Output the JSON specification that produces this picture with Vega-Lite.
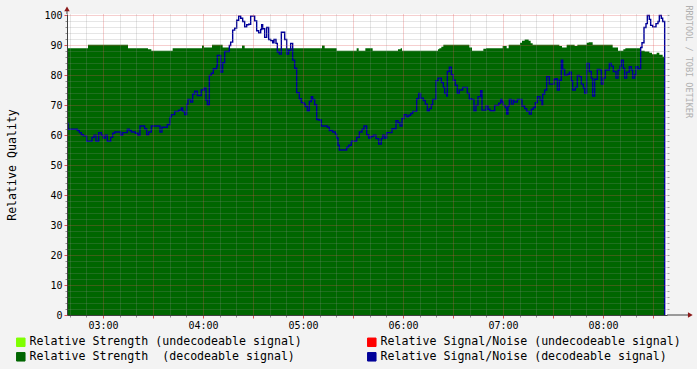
{
  "$schema": "https://vega.github.io/schema/vega-lite/v6.json",
  "width": 600,
  "height": 301,
  "autosize": {"type": "none"},
  "padding": {"left": 67, "top": 14, "right": 30, "bottom": 54},
  "background": "#f3f3f3",
  "datasets": {
    "strength": [
      {"minute": 158.4, "strength": 89.1}, {"minute": 171.0, "strength": 90.2}, {"minute": 195.0, "strength": 89.1},
      {"minute": 207.0, "strength": 88.7}, {"minute": 209.0, "strength": 88.2}, {"minute": 221.8, "strength": 89.1},
      {"minute": 239.4, "strength": 90.0}, {"minute": 240.6, "strength": 89.3}, {"minute": 245.4, "strength": 90.2},
      {"minute": 251.8, "strength": 89.3}, {"minute": 256.2, "strength": 89.1}, {"minute": 263.4, "strength": 90.0},
      {"minute": 265.0, "strength": 89.1}, {"minute": 311.4, "strength": 90.0}, {"minute": 313.0, "strength": 89.1},
      {"minute": 320.2, "strength": 88.2}, {"minute": 332.2, "strength": 89.1}, {"minute": 333.4, "strength": 88.2},
      {"minute": 337.4, "strength": 89.1}, {"minute": 341.8, "strength": 88.2}, {"minute": 357.0, "strength": 88.7},
      {"minute": 358.6, "strength": 89.1}, {"minute": 359.4, "strength": 88.2}, {"minute": 381.0, "strength": 88.7},
      {"minute": 381.8, "strength": 89.1}, {"minute": 383.0, "strength": 89.6}, {"minute": 384.2, "strength": 90.2},
      {"minute": 399.8, "strength": 89.3}, {"minute": 401.4, "strength": 88.2}, {"minute": 408.2, "strength": 88.9},
      {"minute": 409.8, "strength": 89.1}, {"minute": 419.8, "strength": 89.8}, {"minute": 422.2, "strength": 89.1},
      {"minute": 423.4, "strength": 90.2}, {"minute": 430.2, "strength": 90.9}, {"minute": 431.4, "strength": 91.6},
      {"minute": 433.0, "strength": 92.0}, {"minute": 435.4, "strength": 91.6}, {"minute": 436.6, "strength": 90.7},
      {"minute": 437.8, "strength": 90.2}, {"minute": 453.8, "strength": 89.8}, {"minute": 455.4, "strength": 89.3},
      {"minute": 458.2, "strength": 90.2}, {"minute": 463.0, "strength": 89.8}, {"minute": 464.6, "strength": 90.2},
      {"minute": 470.2, "strength": 90.9}, {"minute": 471.4, "strength": 91.1}, {"minute": 473.8, "strength": 90.2},
      {"minute": 485.8, "strength": 89.3}, {"minute": 489.0, "strength": 88.2}, {"minute": 492.2, "strength": 88.7},
      {"minute": 493.4, "strength": 89.1}, {"minute": 502.6, "strength": 88.2}, {"minute": 505.0, "strength": 88.0},
      {"minute": 507.8, "strength": 87.6}, {"minute": 509.4, "strength": 87.1}, {"minute": 512.2, "strength": 87.6},
      {"minute": 513.8, "strength": 86.9}, {"minute": 515.8, "strength": 86.2}, {"minute": 517.0, "strength": 86.2}
    ],
    "snr": [
      {"minute": 158.4, "snr": 64.0}, {"minute": 159.0, "snr": 62.0}, {"minute": 164.6, "snr": 61.6}, {"minute": 165.8, "snr": 60.9},
      {"minute": 167.0, "snr": 60.2}, {"minute": 168.2, "snr": 59.8}, {"minute": 170.2, "snr": 58.0}, {"minute": 173.4, "snr": 59.3},
      {"minute": 174.6, "snr": 60.0}, {"minute": 175.8, "snr": 58.0}, {"minute": 177.4, "snr": 60.9}, {"minute": 179.0, "snr": 60.0},
      {"minute": 180.2, "snr": 59.1}, {"minute": 181.4, "snr": 60.0}, {"minute": 182.6, "snr": 58.0}, {"minute": 184.6, "snr": 59.3},
      {"minute": 185.8, "snr": 60.7}, {"minute": 187.0, "snr": 61.1}, {"minute": 190.6, "snr": 60.0}, {"minute": 191.8, "snr": 60.9},
      {"minute": 194.6, "snr": 62.0}, {"minute": 195.8, "snr": 61.6}, {"minute": 197.0, "snr": 61.1}, {"minute": 199.4, "snr": 60.7},
      {"minute": 201.0, "snr": 60.0}, {"minute": 202.2, "snr": 63.1}, {"minute": 205.0, "snr": 62.2}, {"minute": 206.2, "snr": 60.2},
      {"minute": 207.4, "snr": 61.1}, {"minute": 209.0, "snr": 63.1}, {"minute": 214.2, "snr": 61.1}, {"minute": 215.4, "snr": 62.7},
      {"minute": 218.6, "snr": 63.6}, {"minute": 220.2, "snr": 66.0}, {"minute": 221.0, "snr": 66.9}, {"minute": 223.0, "snr": 68.0},
      {"minute": 225.4, "snr": 68.4}, {"minute": 227.0, "snr": 69.1}, {"minute": 227.8, "snr": 68.0}, {"minute": 229.0, "snr": 66.9},
      {"minute": 230.2, "snr": 70.4}, {"minute": 231.0, "snr": 72.0}, {"minute": 232.6, "snr": 71.1}, {"minute": 233.8, "snr": 73.8},
      {"minute": 235.0, "snr": 74.7}, {"minute": 236.6, "snr": 73.3}, {"minute": 239.0, "snr": 75.1}, {"minute": 240.6, "snr": 75.8},
      {"minute": 241.8, "snr": 71.8}, {"minute": 242.6, "snr": 70.2}, {"minute": 243.8, "snr": 80.0}, {"minute": 245.0, "snr": 80.7},
      {"minute": 246.2, "snr": 82.2}, {"minute": 248.2, "snr": 83.1}, {"minute": 248.6, "snr": 86.7}, {"minute": 250.6, "snr": 81.1},
      {"minute": 251.8, "snr": 84.2}, {"minute": 253.0, "snr": 88.0}, {"minute": 255.8, "snr": 90.0}, {"minute": 256.6, "snr": 91.1},
      {"minute": 257.8, "snr": 95.1}, {"minute": 259.0, "snr": 95.8}, {"minute": 260.2, "snr": 98.4}, {"minute": 261.4, "snr": 99.8},
      {"minute": 262.6, "snr": 99.1}, {"minute": 263.8, "snr": 98.0}, {"minute": 265.0, "snr": 96.2}, {"minute": 266.2, "snr": 96.9},
      {"minute": 267.4, "snr": 97.1}, {"minute": 268.6, "snr": 99.8}, {"minute": 271.0, "snr": 98.2}, {"minute": 272.2, "snr": 94.9},
      {"minute": 273.4, "snr": 94.2}, {"minute": 274.6, "snr": 95.3}, {"minute": 275.2, "snr": 96.9}, {"minute": 275.8, "snr": 95.6},
      {"minute": 277.0, "snr": 92.7}, {"minute": 278.2, "snr": 96.0}, {"minute": 279.4, "snr": 92.0}, {"minute": 280.6, "snr": 91.6},
      {"minute": 281.8, "snr": 90.9}, {"minute": 282.6, "snr": 92.0}, {"minute": 283.8, "snr": 90.7}, {"minute": 284.6, "snr": 87.8},
      {"minute": 285.8, "snr": 87.1}, {"minute": 287.0, "snr": 94.4}, {"minute": 289.0, "snr": 92.0}, {"minute": 290.2, "snr": 87.1},
      {"minute": 291.4, "snr": 88.4}, {"minute": 292.6, "snr": 90.7}, {"minute": 293.8, "snr": 85.1}, {"minute": 295.0, "snr": 82.4},
      {"minute": 296.2, "snr": 74.2}, {"minute": 297.8, "snr": 72.2}, {"minute": 299.0, "snr": 70.9}, {"minute": 300.6, "snr": 70.4},
      {"minute": 301.4, "snr": 69.6}, {"minute": 302.6, "snr": 68.2}, {"minute": 303.8, "snr": 71.3}, {"minute": 305.0, "snr": 72.9},
      {"minute": 305.8, "snr": 72.0}, {"minute": 307.0, "snr": 70.2}, {"minute": 308.2, "snr": 65.3}, {"minute": 309.4, "snr": 65.1},
      {"minute": 311.0, "snr": 63.1}, {"minute": 314.6, "snr": 62.7}, {"minute": 315.8, "snr": 61.6}, {"minute": 317.8, "snr": 61.1},
      {"minute": 319.4, "snr": 60.4}, {"minute": 320.2, "snr": 59.1}, {"minute": 321.0, "snr": 56.7}, {"minute": 321.8, "snr": 55.1},
      {"minute": 326.2, "snr": 56.0}, {"minute": 327.4, "snr": 56.7}, {"minute": 329.0, "snr": 58.0}, {"minute": 332.2, "snr": 59.3},
      {"minute": 333.8, "snr": 61.1}, {"minute": 335.4, "snr": 62.0}, {"minute": 336.6, "snr": 63.1}, {"minute": 338.2, "snr": 60.2},
      {"minute": 339.4, "snr": 59.1}, {"minute": 340.6, "snr": 59.6}, {"minute": 342.2, "snr": 60.0}, {"minute": 343.8, "snr": 58.9},
      {"minute": 345.4, "snr": 57.1}, {"minute": 347.0, "snr": 58.9}, {"minute": 347.8, "snr": 60.0}, {"minute": 349.0, "snr": 59.1},
      {"minute": 350.2, "snr": 60.9}, {"minute": 353.4, "snr": 62.2}, {"minute": 355.8, "snr": 64.9}, {"minute": 357.0, "snr": 64.2},
      {"minute": 358.2, "snr": 63.1}, {"minute": 359.4, "snr": 65.6}, {"minute": 360.6, "snr": 66.9}, {"minute": 362.2, "snr": 66.2},
      {"minute": 363.4, "snr": 66.7}, {"minute": 364.6, "snr": 67.3}, {"minute": 365.8, "snr": 68.0}, {"minute": 368.2, "snr": 72.2},
      {"minute": 369.4, "snr": 74.0}, {"minute": 370.6, "snr": 72.4}, {"minute": 372.2, "snr": 71.6}, {"minute": 373.4, "snr": 70.4},
      {"minute": 374.6, "snr": 68.2}, {"minute": 375.8, "snr": 68.9}, {"minute": 377.0, "snr": 70.2}, {"minute": 377.8, "snr": 72.0},
      {"minute": 379.8, "snr": 78.2}, {"minute": 381.0, "snr": 79.1}, {"minute": 383.0, "snr": 77.6}, {"minute": 384.2, "snr": 76.0},
      {"minute": 385.0, "snr": 74.0}, {"minute": 386.2, "snr": 73.1}, {"minute": 386.6, "snr": 81.3}, {"minute": 387.8, "snr": 82.7},
      {"minute": 389.0, "snr": 80.2}, {"minute": 390.2, "snr": 78.4}, {"minute": 391.4, "snr": 76.7}, {"minute": 392.6, "snr": 74.0},
      {"minute": 393.8, "snr": 75.1}, {"minute": 395.8, "snr": 76.0}, {"minute": 398.6, "snr": 74.0}, {"minute": 399.8, "snr": 72.2},
      {"minute": 401.0, "snr": 72.0}, {"minute": 402.6, "snr": 68.2}, {"minute": 403.8, "snr": 70.0}, {"minute": 405.0, "snr": 72.9},
      {"minute": 406.6, "snr": 74.9}, {"minute": 407.4, "snr": 68.4}, {"minute": 409.8, "snr": 69.8}, {"minute": 411.0, "snr": 68.7},
      {"minute": 412.2, "snr": 68.2}, {"minute": 415.0, "snr": 70.0}, {"minute": 417.4, "snr": 70.7}, {"minute": 418.6, "snr": 72.0},
      {"minute": 419.4, "snr": 71.1}, {"minute": 420.2, "snr": 70.0}, {"minute": 421.4, "snr": 69.3}, {"minute": 422.2, "snr": 67.1},
      {"minute": 423.0, "snr": 69.8}, {"minute": 423.8, "snr": 72.0}, {"minute": 425.0, "snr": 70.4}, {"minute": 426.2, "snr": 71.8},
      {"minute": 426.6, "snr": 71.1}, {"minute": 428.6, "snr": 72.0}, {"minute": 431.4, "snr": 69.8}, {"minute": 433.0, "snr": 68.9},
      {"minute": 434.2, "snr": 68.0}, {"minute": 435.8, "snr": 67.1}, {"minute": 437.0, "snr": 68.7}, {"minute": 438.2, "snr": 69.3},
      {"minute": 439.4, "snr": 70.9}, {"minute": 440.6, "snr": 72.9}, {"minute": 442.2, "snr": 71.8}, {"minute": 443.4, "snr": 70.2},
      {"minute": 443.8, "snr": 73.8}, {"minute": 445.0, "snr": 75.1}, {"minute": 446.2, "snr": 79.6}, {"minute": 447.8, "snr": 77.1},
      {"minute": 450.6, "snr": 78.7}, {"minute": 451.8, "snr": 78.9}, {"minute": 452.6, "snr": 75.1}, {"minute": 453.8, "snr": 78.4},
      {"minute": 455.0, "snr": 85.1}, {"minute": 455.8, "snr": 82.0}, {"minute": 457.0, "snr": 80.0}, {"minute": 458.6, "snr": 80.4},
      {"minute": 459.8, "snr": 81.1}, {"minute": 461.0, "snr": 78.2}, {"minute": 461.8, "snr": 75.1}, {"minute": 463.4, "snr": 76.0},
      {"minute": 464.6, "snr": 80.0}, {"minute": 465.8, "snr": 79.6}, {"minute": 467.0, "snr": 77.1}, {"minute": 468.2, "snr": 75.8},
      {"minute": 469.0, "snr": 74.0}, {"minute": 470.2, "snr": 84.0}, {"minute": 471.8, "snr": 81.3}, {"minute": 473.0, "snr": 79.1},
      {"minute": 473.8, "snr": 73.1}, {"minute": 475.0, "snr": 78.7}, {"minute": 476.6, "snr": 82.0}, {"minute": 478.2, "snr": 81.8},
      {"minute": 479.0, "snr": 77.1}, {"minute": 480.2, "snr": 79.1}, {"minute": 481.4, "snr": 81.8}, {"minute": 483.8, "snr": 84.0},
      {"minute": 485.0, "snr": 83.1}, {"minute": 486.2, "snr": 81.3}, {"minute": 487.8, "snr": 79.1}, {"minute": 489.0, "snr": 81.8},
      {"minute": 490.2, "snr": 83.1}, {"minute": 491.0, "snr": 85.1}, {"minute": 492.2, "snr": 82.4}, {"minute": 493.0, "snr": 79.1},
      {"minute": 494.2, "snr": 81.1}, {"minute": 495.8, "snr": 82.9}, {"minute": 497.0, "snr": 81.8}, {"minute": 497.8, "snr": 79.1},
      {"minute": 499.0, "snr": 80.2}, {"minute": 499.8, "snr": 82.9}, {"minute": 501.0, "snr": 82.2}, {"minute": 502.6, "snr": 89.3},
      {"minute": 503.4, "snr": 90.9}, {"minute": 504.6, "snr": 96.0}, {"minute": 505.8, "snr": 97.3}, {"minute": 506.6, "snr": 100.0},
      {"minute": 507.8, "snr": 98.7}, {"minute": 508.6, "snr": 96.7}, {"minute": 509.8, "snr": 96.2}, {"minute": 511.8, "snr": 97.3},
      {"minute": 513.0, "snr": 98.0}, {"minute": 513.8, "snr": 100.0}, {"minute": 515.0, "snr": 99.1}, {"minute": 515.8, "snr": 98.0},
      {"minute": 517.0, "snr": 0.0}
    ]
  },
  "layer": [
    {
      "data": {"name": "strength"},
      "mark": {"type": "area", "interpolate": "step-after", "opacity": 1},
      "encoding": {
        "x": {"field": "minute", "type": "quantitative",
          "scale": {"domain": [158.4, 518.4], "nice": false, "zero": false},
          "axis": {"orient": "bottom", "values": [160,170,190,200,220,230,250,260,280,290,310,320,340,350,370,380,400,410,430,440,460,470,490,500],
            "grid": true, "gridColor": "#8f8f8f", "gridOpacity": 0.45, "gridDash": [1, 1], "tickColor": "#8f8f8f", "tickSize": 2,
            "labels": false, "domain": false, "title": null, "zindex": 1}},
        "y": {"field": "strength", "type": "quantitative",
          "scale": {"domain": [0, 100.5], "nice": false},
          "axis": {"orient": "left", "values": [2,4,6,8,12,14,16,18,22,24,26,28,32,34,36,38,42,44,46,48,52,54,56,58,62,64,66,68,72,74,76,78,82,84,86,88,92,94,96,98],
            "grid": true, "gridColor": "#8f8f8f", "gridOpacity": 0.45, "gridDash": [1, 1], "tickColor": "#8f8f8f", "tickSize": 2,
            "labels": false, "domain": false, "title": null, "zindex": 1}},
        "color": {"datum": "Relative Strength\u00a0 (decodeable signal)", "type": "nominal",
          "scale": {"domain": ["Relative Strength (undecodeable signal)", "Relative Signal/Noise (undecodeable signal)", "Relative Strength\u00a0 (decodeable signal)", "Relative Signal/Noise (decodeable signal)"],
                    "range": ["#7fff00", "#ff0000", "#006600", "#000099"]},
          "legend": {"orient": "none", "legendX": -52, "legendY": 322, "columns": 2, "direction": "horizontal", "title": null,
            "symbolType": "square", "symbolSize": 72, "symbolStrokeColor": "#000000", "symbolStrokeWidth": 1, "symbolOpacity": 1,
            "labelFont": "DejaVu Sans Mono", "labelFontSize": 11.6, "labelColor": "#000000", "labelOffset": 3, "labelLimit": 400,
            "columnPadding": 63, "rowPadding": 1, "padding": 0,
            "encode": {"symbols": {"update": {"fill": {"scale": "color", "field": "value"}, "stroke": {"value": "#000000"}, "strokeWidth": {"value": 1}}}}}}
      }
    },
    {
      "data": {"name": "snr"},
      "mark": {"type": "line", "interpolate": "step-after", "strokeWidth": 1.4},
      "encoding": {
        "x": {"field": "minute", "type": "quantitative",
          "axis": {"orient": "bottom", "values": [180,210,240,270,300,330,360,390,420,450,480,510],
            "grid": true, "gridColor": "#e05050", "gridOpacity": 0.55, "gridDash": [1, 1], "tickColor": "#e05050", "tickSize": 3,
            "labelExpr": "datum.value % 60 == 0 ? '0' + (datum.value / 60) + ':00' : ''",
            "labelPadding": 2, "labelFont": "DejaVu Sans Mono", "labelFontSize": 10, "labelColor": "#000000",
            "domain": true, "domainColor": "#404040", "title": null, "zindex": 1}},
        "y": {"field": "snr", "type": "quantitative",
          "axis": {"orient": "left", "values": [0,10,20,30,40,50,60,70,80,90,100],
            "grid": true, "gridColor": "#e05050", "gridOpacity": 0.55, "gridDash": [1, 1], "tickColor": "#e05050", "tickSize": 3,
            "labelPadding": 2, "labelFont": "DejaVu Sans Mono", "labelFontSize": 10, "labelColor": "#000000",
            "domain": true, "domainColor": "#404040",
            "title": "Relative Quality", "titleFont": "DejaVu Sans Mono", "titleFontSize": 11.6, "titleFontWeight": "normal", "titleColor": "#000000", "titlePadding": 26, "zindex": 1}},
        "color": {"datum": "Relative Signal/Noise (decodeable signal)", "type": "nominal"}
      }
    },
    {
      "data": {"values": [{}]},
      "mark": {"type": "rule", "color": "#404040", "strokeWidth": 1},
      "encoding": {
        "x": {"datum": 518.4, "type": "quantitative", "axis": null},
        "x2": {"datum": 531},
        "y": {"datum": 0, "type": "quantitative", "axis": null}
      }
    },
    {
      "data": {"values": [{}]},
      "mark": {"type": "rule", "color": "#404040", "strokeWidth": 1},
      "encoding": {
        "x": {"datum": 158.4, "type": "quantitative", "axis": null},
        "y": {"datum": 100.5, "type": "quantitative",
          "axis": {"orient": "right", "values": [2,4,6,8,10,12,14,16,18,20,22,24,26,28,30,32,34,36,38,40,42,44,46,48,50,52,54,56,58,60,62,64,66,68,70,72,74,76,78,80,82,84,86,88,90,92,94,96,98,100],
            "labels": false, "grid": false, "domain": false, "ticks": true, "tickColor": "#a0a0a0", "tickSize": 2,
            "title": "RRDTOOL / TOBI OETIKER", "titleAngle": 90, "titleX": 21, "titleY": -9, "titleAlign": "left", "titleBaseline": "middle",
            "titleFont": "DejaVu Sans Mono", "titleFontSize": 8.5, "titleFontWeight": "normal", "titleColor": "#b0b0b0"}},
        "y2": {"datum": 102.5}
      }
    },
    {
      "data": {"values": [{}]},
      "mark": {"type": "point", "shape": "triangle-right", "filled": true, "color": "#8b1a1a", "size": 30, "opacity": 1},
      "encoding": {
        "x": {"datum": 532.4, "type": "quantitative", "axis": null},
        "y": {"datum": 0, "type": "quantitative", "axis": null}
      }
    },
    {
      "data": {"values": [{}]},
      "mark": {"type": "point", "shape": "triangle-up", "filled": true, "color": "#8b1a1a", "size": 30, "opacity": 1},
      "encoding": {
        "x": {"datum": 158.4, "type": "quantitative", "axis": null},
        "y": {"datum": 102.2, "type": "quantitative", "axis": null}
      }
    }
  ],
  "resolve": {"axis": {"x": "independent", "y": "independent"}},
  "config": {
    "view": {"stroke": null, "fill": "#ffffff"},
    "font": "DejaVu Sans Mono"
  }
}
